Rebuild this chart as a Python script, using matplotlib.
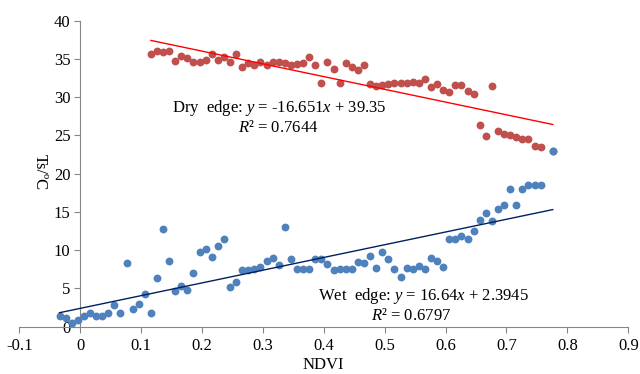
"""Dry / wet edge scatter of Ts against NDVI with linear edges."""
import numpy as np
import matplotlib; matplotlib.use("Agg")
import matplotlib.pyplot as plt

plt.rcParams["font.family"] = "serif"
plt.rcParams["font.serif"] = ["Liberation Serif", "DejaVu Serif"]
plt.rcParams["mathtext.fontset"] = "custom"
plt.rcParams["mathtext.rm"] = "Liberation Serif"
plt.rcParams["mathtext.it"] = "Liberation Serif:italic"

# dry edge samples (max Ts per NDVI bin)
dry_ndvi = [0.116, 0.126, 0.136, 0.146, 0.156, 0.166, 0.176, 0.186, 0.196, 0.206,
            0.216, 0.226, 0.236, 0.246, 0.256, 0.266, 0.276, 0.286, 0.296, 0.306,
            0.316, 0.326, 0.336, 0.346, 0.356, 0.366, 0.376, 0.386, 0.396, 0.406,
            0.416, 0.426, 0.436, 0.446, 0.456, 0.466, 0.476, 0.486, 0.496, 0.506,
            0.516, 0.526, 0.536, 0.546, 0.556, 0.566, 0.576, 0.586, 0.596, 0.606,
            0.616, 0.626, 0.636, 0.646, 0.656, 0.666, 0.676, 0.686, 0.696, 0.706,
            0.716, 0.726, 0.736, 0.746, 0.756, 0.776]
dry_ts = [35.6, 36.1, 35.9, 36.0, 34.7, 35.4, 35.1, 34.6, 34.6, 34.85,
          35.7, 34.9, 35.3, 34.6, 35.6, 34.0, 34.5, 34.2, 34.55, 34.2,
          34.6, 34.55, 34.5, 34.2, 34.4, 34.5, 35.2, 34.2, 31.9, 34.6,
          33.7, 31.8, 34.5, 34.0, 33.5, 34.2, 31.7, 31.5, 31.6, 31.7,
          31.9, 31.8, 31.8, 32.0, 31.8, 32.4, 31.3, 31.7, 30.9, 30.7,
          31.6, 31.6, 30.8, 30.4, 26.35, 24.95, 31.4, 25.55, 25.15, 25.05,
          24.85, 24.55, 24.55, 23.65, 23.45, 23.0]

# wet edge samples (min Ts per NDVI bin)
wet_ndvi = [-0.034, -0.024, -0.014, -0.004, 0.006, 0.016, 0.026, 0.036, 0.046, 0.056,
            0.066, 0.076, 0.086, 0.096, 0.106, 0.116, 0.126, 0.136, 0.146, 0.156,
            0.166, 0.176, 0.186, 0.196, 0.206, 0.216, 0.226, 0.236, 0.246, 0.256,
            0.266, 0.276, 0.286, 0.296, 0.306, 0.316, 0.326, 0.336, 0.346, 0.356,
            0.366, 0.376, 0.386, 0.396, 0.406, 0.416, 0.426, 0.436, 0.446, 0.456,
            0.466, 0.476, 0.486, 0.496, 0.506, 0.516, 0.526, 0.536, 0.546, 0.556,
            0.566, 0.576, 0.586, 0.596, 0.606, 0.616, 0.626, 0.636, 0.646, 0.656,
            0.666, 0.676, 0.686, 0.696, 0.706, 0.716, 0.726, 0.736, 0.746, 0.756,
            0.776]
wet_ts = [1.4, 1.2, 0.5, 0.85, 1.4, 1.85, 1.4, 1.4, 1.85, 2.9,
          1.8, 8.3, 2.35, 2.95, 4.3, 1.75, 6.4, 12.8, 8.6, 4.7,
          5.3, 4.75, 7.0, 9.8, 10.2, 9.1, 10.6, 11.4, 5.2, 5.8,
          7.45, 7.45, 7.6, 7.8, 8.6, 9.0, 8.0, 13.05, 8.8, 7.6,
          7.5, 7.55, 8.9, 8.9, 8.2, 7.4, 7.5, 7.5, 7.55, 8.4,
          8.3, 9.2, 7.7, 9.8, 8.8, 7.55, 6.5, 7.7, 7.6, 7.9,
          7.55, 8.95, 8.65, 7.85, 11.4, 11.4, 11.9, 11.5, 12.5, 13.9,
          14.8, 13.8, 15.35, 15.85, 17.95, 15.95, 18.05, 18.55, 18.55, 18.55,
          22.95]

# fitted edges as printed on the chart
dry_fit = (-16.651, 39.35)
wet_fit = (16.64, 2.3945)

xticks = [-0.1, 0, 0.1, 0.2, 0.3, 0.4, 0.5, 0.6, 0.7, 0.8, 0.9]
yticks = [0, 5, 10, 15, 20, 25, 30, 35, 40]

fig = plt.figure(figsize=(6.4, 3.74), dpi=100)
ax = fig.add_axes([0.0302, 0.1265, 0.9515, 0.8182])

ax.scatter(dry_ndvi, dry_ts, s=32, color="#C0504D", linewidths=0, zorder=3)
ax.scatter(wet_ndvi, wet_ts, s=32, color="#4F81BD", linewidths=0, zorder=4)

xd = np.array([min(dry_ndvi), max(dry_ndvi)])
ax.plot(xd, dry_fit[0] * xd + dry_fit[1], color="#FF0000", lw=1.0, zorder=5)
xw = np.array([min(wet_ndvi), max(wet_ndvi)])
ax.plot(xw, wet_fit[0] * xw + wet_fit[1], color="#002060", lw=1.0, zorder=5)

ax.set_xlim(-0.1, 0.9); ax.set_ylim(0, 40)
ax.set_xticks(xticks); ax.set_xticklabels([f"{v:g}" for v in xticks])
ax.set_yticks(yticks); ax.set_yticklabels([str(v) for v in yticks])
ax.spines[["top", "right"]].set_visible(False)
ax.spines["left"].set_position(("data", 0))
for s in ("left", "bottom"):
    ax.spines[s].set_color("#868686"); ax.spines[s].set_linewidth(0.8)
ax.tick_params(direction="out", length=4, width=0.8, color="#868686", labelsize=12)
ax.tick_params(axis="x", pad=4)
ax.tick_params(axis="y", pad=3)
for lab in ax.get_xticklabels() + ax.get_yticklabels():
    lab.set_fontfamily("Liberation Serif")

fig.text(323 / 640, 1 - 365 / 374, "NDVI", ha="center", va="center", fontsize=12)
fig.text(40 / 640, 1 - 172 / 374, "Ts/ºC", ha="center", va="center", fontsize=12,
         rotation=270)

fig.text(279 / 640, 1 - 108 / 374, r"Dry  edge: $y$ = -16.651$x$ + 39.35",
         ha="center", va="center", fontsize=12)
fig.text(278 / 640, 1 - 128 / 374, r"$R$² = 0.7644", ha="center", va="center", fontsize=12)
fig.text(423 / 640, 1 - 296 / 374, r"Wet  edge: $y$ = 16.64$x$ + 2.3945",
         ha="center", va="center", fontsize=12)
fig.text(411 / 640, 1 - 316 / 374, r"$R$² = 0.6797", ha="center", va="center", fontsize=12)

fig.savefig("out.png", dpi=100)
